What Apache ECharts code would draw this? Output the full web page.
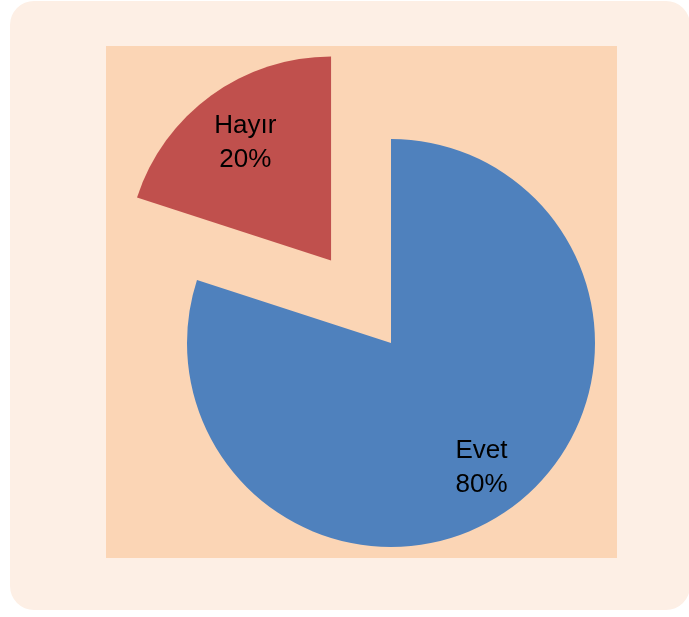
<!DOCTYPE html>
<html>
<head>
<meta charset="utf-8">
<script src="https://cdn.jsdelivr.net/npm/echarts@6/dist/echarts.min.js"></script>
<style>
  html, body { margin: 0; padding: 0; background: #fff; }
  #chart { width: 689px; height: 617px; }
</style>
</head>
<body>
<div id="chart"></div>
<script>
const categories = ["Evet", "Hayır"];
const values = [80, 20];
const colors = ["#4F81BD", "#C0504D"];
const selectedNames = ["Hayır"];

const total = values.reduce((a, b) => a + b, 0);
// mid angle of each slice, clockwise from 12 o'clock
const midAngles = [];
let acc = 0;
values.forEach((v) => {
  midAngles.push(((acc + v / 2) / total) * 2 * Math.PI);
  acc += v;
});

const radius = 204;
// push labels out from half radius (fraction of radius, per slice)
const labelShift = [0.24, 0.2];

const chart = echarts.init(document.getElementById("chart"));
chart.setOption({
  animation: false,
  graphic: [
    {
      type: "rect",
      z: -10,
      shape: { x: 10, y: 1, width: 680, height: 609, r: 24 },
      style: { fill: "#FDEFE5" },
    },
    {
      type: "rect",
      z: -9,
      shape: { x: 106, y: 46, width: 511, height: 512 },
      style: { fill: "#FBD5B5" },
    },
  ],
  series: [
    {
      type: "pie",
      center: [391, 343],
      radius: radius,
      startAngle: 90,
      clockwise: true,
      selectedMode: "single",
      selectedOffset: 102,
      emphasis: { disabled: true },
      itemStyle: { borderWidth: 0 },
      label: {
        show: true,
        position: "inside",
        formatter: "{b}\n{d}%",
        color: "#000",
        fontFamily: "Liberation Sans",
        fontSize: 26,
        lineHeight: 34,
      },
      labelLine: { show: false },
      labelLayout: (params) => {
        const a = midAngles[params.dataIndex];
        const s = radius * labelShift[params.dataIndex];
        return { dx: s * Math.sin(a), dy: -s * Math.cos(a) };
      },
      data: categories.map((name, i) => ({
        name: name,
        value: values[i],
        selected: selectedNames.includes(name),
        itemStyle: { color: colors[i] },
      })),
    },
  ],
});
</script>
</body>
</html>
